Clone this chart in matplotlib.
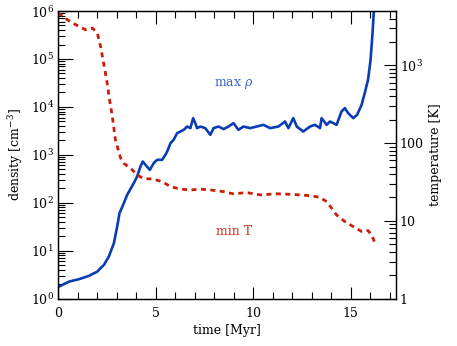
import numpy as np
import matplotlib
matplotlib.use("Agg")
import matplotlib.pyplot as plt
from matplotlib.ticker import FixedLocator, FixedFormatter, LogLocator, NullFormatter

plt.rcParams["font.family"] = "DejaVu Serif"
plt.rcParams["mathtext.fontset"] = "dejavuserif"

# max density curve (time in Myr, density in cm^-3)
t_rho = [0.05, 0.56, 1.07, 1.58, 2.01, 2.35, 2.60, 2.86, 3.03, 3.15, 3.37, 3.54, 3.88,
         4.05, 4.22, 4.34, 4.48, 4.70, 4.90, 5.08, 5.33, 5.50, 5.59, 5.76, 5.92, 6.10,
         6.27, 6.44, 6.61, 6.78, 6.92, 7.03, 7.12, 7.29, 7.54, 7.80, 7.97, 8.22, 8.48,
         8.73, 8.99, 9.24, 9.50, 9.84, 10.18, 10.52, 10.86, 11.29, 11.63, 11.80, 12.05,
         12.23, 12.56, 12.91, 13.16, 13.42, 13.50, 13.76, 13.93, 14.27, 14.52, 14.69,
         14.86, 15.12, 15.32, 15.55, 15.71, 15.88, 16.01, 16.11, 16.17, 16.25]
rho = [1.78, 2.26, 2.54, 2.98, 3.66, 5.05, 7.5, 14.3, 31.8, 60.7, 98, 146, 257,
       352, 570, 725, 618, 486, 671, 787, 787, 1000, 1172, 1754, 2056, 2838,
       3064, 3325, 3898, 3608, 5834, 4590, 3608, 3898, 3608, 2618, 3608, 3898, 3443,
       3898, 4590, 3325, 3898, 3608, 3898, 4230, 3608, 3898, 4960, 3608, 5834,
       3898, 3064, 3898, 4230, 3608, 5834, 4230, 4960, 4230, 8020, 9440,
       7430, 5834, 6840, 11060, 19400, 36800, 96200, 347000, 908000, 2.0e6]

# min temperature curve (time in Myr, temperature in K)
t_T = [0.0, 0.14, 0.48, 0.74, 1.16, 1.41, 1.76, 2.01, 2.18, 2.33, 2.49, 2.64, 2.78,
       2.94, 3.20, 3.37, 3.71, 4.06, 4.39, 4.82, 5.33, 5.76, 6.27, 6.78, 7.29, 7.80,
       8.46, 8.97, 9.67, 10.35, 11.20, 12.05, 12.99, 13.42, 13.76, 14.01, 14.27,
       14.69, 15.12, 15.55, 15.88, 16.06, 16.17, 16.28]
T = [4700, 4480, 3865, 3500, 3110, 2870, 3020, 2606, 1750, 1080, 653, 361, 220,
     110, 64.7, 55, 47.6, 39, 34.7, 34.7, 32, 27.6, 25.6, 25, 25.6, 25,
     23.8, 22.3, 23.1, 21.6, 22.3, 21.9, 21, 20, 17.7, 14.6, 11.9,
     9.8, 8.45, 7.3, 7.5, 6.6, 5.7, 4.8]

fig = plt.figure(figsize=(4.57, 3.46), dpi=100)
ax = fig.add_axes([0.127, 0.137, 0.739, 0.831])
ax2 = ax.twinx()

ax.plot(t_rho, rho, color="#0a3cb4", lw=1.9, solid_capstyle="round")
ax2.plot(t_T, T, color="#c81e0a", lw=2.0, dashes=(1.8, 1.6))

ax.set_xlim(0, 17.3)
ax.set_yscale("log")
ax.set_ylim(1, 1e6)
ax2.set_yscale("log")
ax2.set_ylim(1, 5000)

ax.set_xticks([0, 5, 10, 15])
ax.set_xticks(np.arange(0, 18, 1), minor=True)
ax.yaxis.set_major_locator(LogLocator(base=10, numticks=10))
ax.yaxis.set_minor_locator(LogLocator(base=10, subs=np.arange(2, 10), numticks=20))
ax.yaxis.set_minor_formatter(NullFormatter())

ax2.yaxis.set_major_locator(FixedLocator([1, 10, 100, 1000]))
ax2.yaxis.set_major_formatter(FixedFormatter(["1", "10", "100", "$10^3$"]))
ax2.yaxis.set_minor_locator(LogLocator(base=10, subs=np.arange(2, 10), numticks=20))
ax2.yaxis.set_minor_formatter(NullFormatter())

ax.tick_params(axis="both", which="both", direction="in", top=True, right=False,
               labelsize=9, width=0.8)
ax.tick_params(axis="x", which="major", length=9, pad=6)
ax.tick_params(axis="x", which="minor", length=5)
ax.tick_params(axis="y", which="major", length=11, pad=3)
ax.tick_params(axis="y", which="minor", length=5)
ax2.tick_params(axis="y", which="both", direction="in", labelsize=9, width=0.8)
ax2.tick_params(axis="y", which="major", length=9, pad=3)
ax2.tick_params(axis="y", which="minor", length=5)

for a in (ax, ax2):
    for s in a.spines.values():
        s.set_linewidth(0.9)

ax.set_xlabel("time [Myr]", fontsize=9, labelpad=3)
ax.set_ylabel("density [cm$^{-3}$]", fontsize=9, labelpad=4)
ax2.set_ylabel("temperature [K]", fontsize=9, labelpad=4)

ax.text(0.52, 0.745, r"max $\rho$", transform=ax.transAxes, color="#3c64d2",
        fontsize=9, ha="center", va="center")
ax.text(0.52, 0.235, "min T", transform=ax.transAxes, color="#d2321e",
        fontsize=9, ha="center", va="center")

fig.savefig("out.png", dpi=100)
